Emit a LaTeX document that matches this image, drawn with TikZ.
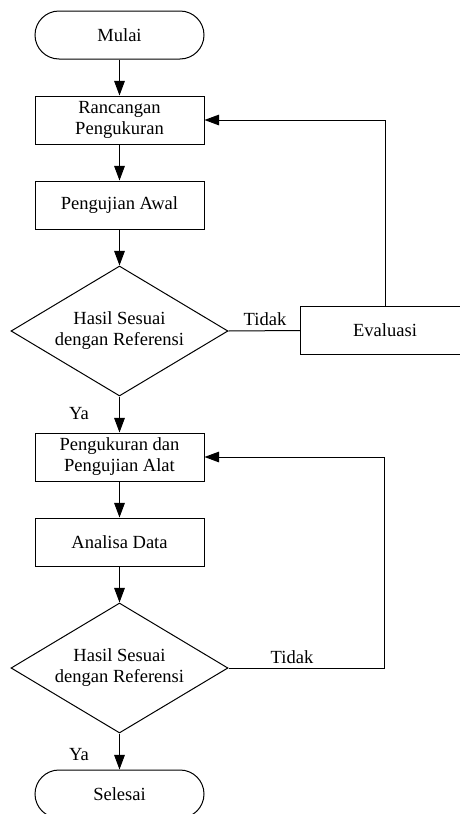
\documentclass[tikz,border=0pt]{standalone}
\usepackage{fontspec}
\setmainfont{Liberation Serif}
\usetikzlibrary{shapes.geometric,arrows.meta}
\begin{document}
\begin{tikzpicture}[x=0.75pt,y=-0.75pt,line width=0.75pt,
  every node/.style={font=\fontsize{13.9}{15.75}\selectfont},
  term/.style={draw,rectangle,rounded corners=18pt,minimum width=126.75pt,minimum height=36pt,inner sep=0pt},
  proc/.style={draw,rectangle,minimum width=126.75pt,minimum height=36pt,inner sep=0pt,align=center},
  dec/.style={draw,diamond,minimum width=162.75pt,minimum height=97.5pt,inner sep=0pt,align=center,aspect=1.67},
  lbl/.style={inner sep=0pt},
  flow/.style={-{Triangle[length=11pt,width=8pt]}}]
\useasboundingbox (0,0) rectangle (460,814);
\clip (0,0) rectangle (460,814);
\node[term] (mulai) at (119.5,35) {Mulai};
\node[proc] (ranc) at (119.5,120) {Rancangan\\Pengukuran};
\node[proc] (awal) at (119.5,205) {Pengujian Awal};
\node[dec] (d1) at (119.5,331) {Hasil Sesuai\\dengan Referensi};
\node[proc] (eval) at (385,330.5) {Evaluasi};
\node[proc] (peng) at (119.5,457) {Pengukuran dan\\Pengujian Alat};
\node[proc] (anal) at (119.5,542) {Analisa Data};
\node[dec] (d2) at (119.5,668) {Hasil Sesuai\\dengan Referensi};
\node[term] (sel) at (119.5,794) {Selesai};
\node[lbl] (t1) at (265,319) {Tidak};
\node[lbl] (t2) at (292,657) {Tidak};
\node[lbl] (y1) at (79,414) {Ya};
\node[lbl] (y2) at (79,755) {Ya};
\coordinate (c2) at (384,668);
\draw[flow] (mulai) -- (ranc);
\draw[flow] (ranc) -- (awal);
\draw[flow] (awal) -- (d1);
\draw (d1.east) -- (eval.west);
\draw[flow] (eval.north) |- (ranc.east);
\draw[flow] (d1) -- (peng);
\draw[flow] (peng) -- (anal);
\draw[flow] (anal) -- (d2);
\draw[flow] (d2.east) -- (c2) |- (peng.east);
\draw[flow] (d2) -- (sel);
\end{tikzpicture}
\end{document}
